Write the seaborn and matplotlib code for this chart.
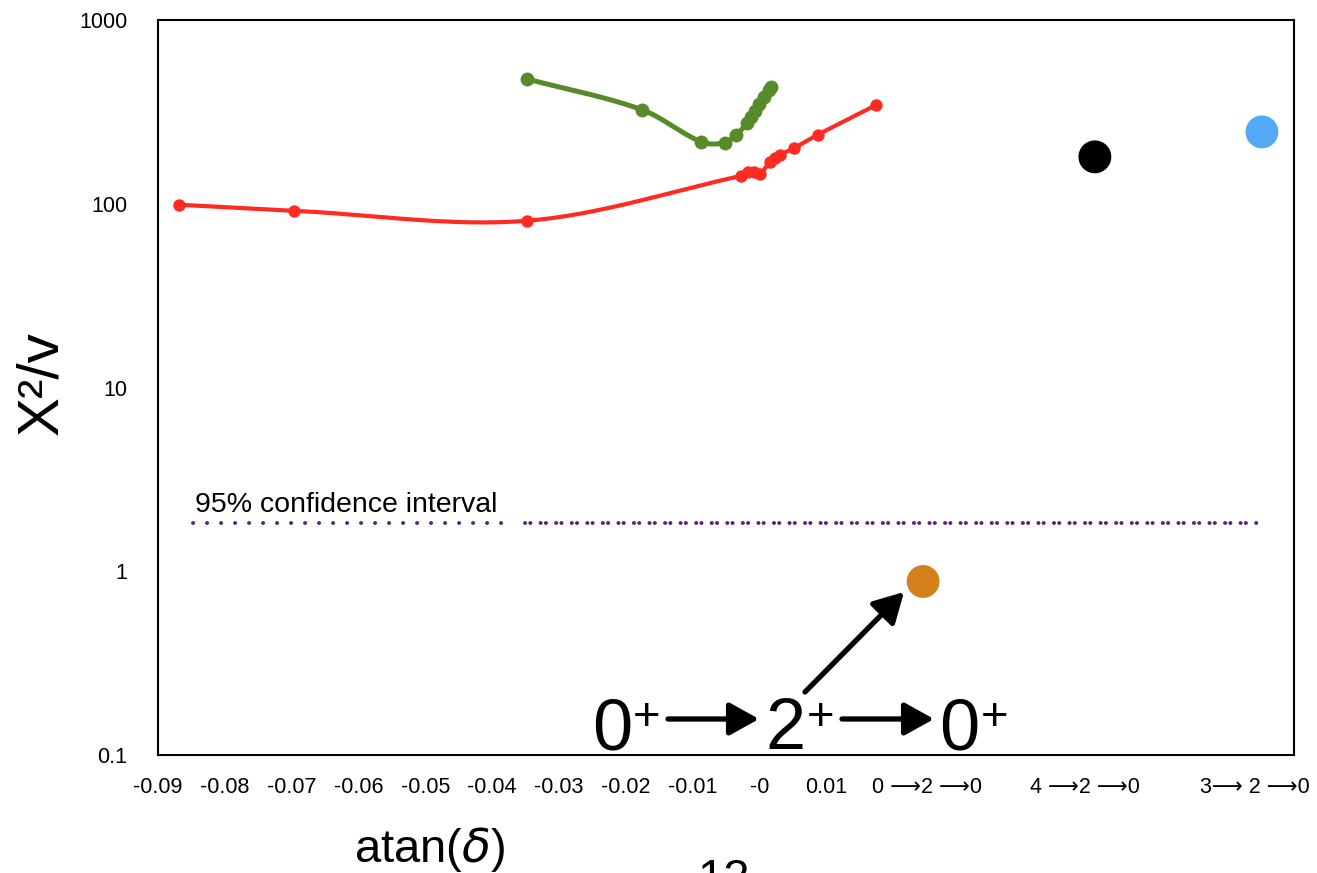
import numpy as np
import pandas as pd
import matplotlib
matplotlib.use("Agg")
import matplotlib.pyplot as plt
import seaborn as sns
from matplotlib.patches import FancyArrowPatch

# ---------------- data ----------------
red_x = [-0.0869, -0.0697, -0.0348, -0.0027, -0.0017, -0.0008, 0.0001,
         0.0016, 0.0024, 0.0031, 0.0052, 0.0087, 0.0175]
red_y = [98.8, 91.6, 80.8, 142, 149, 149, 146, 169, 178, 185, 201, 237, 345]

green_x = [-0.0348, -0.0175, -0.0087, -0.0052, -0.0035, -0.0018, -0.0012,
           -0.0006, 0.0000, 0.0007, 0.0015, 0.0018]
green_y = [478, 324, 217, 215, 237, 275, 297, 320, 349, 382, 417, 433]

single_x = [0.0245, 0.0502, 0.0752]
single_y = [0.88, 180, 246]
single_names = ["0-2-0", "4-2-0", "3-2-0"]
single_colors = ["#D4801C", "#000000", "#54A9F6"]

conf_level = 1.84
conf_sparse_x = [-0.0848, -0.0372]
conf_dense_x = [-0.0351, 0.0747]

xtick_vals = [-0.09, -0.08, -0.07, -0.06, -0.05, -0.04, -0.03, -0.02, -0.01,
              0.0, 0.01, 0.02, 0.03, 0.04, 0.05, 0.06, 0.07, 0.08]
xtick_labels = ["-0.09", "-0.08", "-0.07", "-0.06", "-0.05", "-0.04", "-0.03",
                "-0.02", "-0.01", "-0", "0.01", "", "", "", "", "", "", ""]
cat_x = [0.0251, 0.0487, 0.0742]
cat_labels = ["0 \u27f62 \u27f60", "4 \u27f62 \u27f60", "3\u27f6 2 \u27f60"]
ytick_vals = [0.1, 1, 10, 100, 1000]
ytick_labels = ["0.1", "1", "10", "100", "1000"]

RED = "#FF2B20"
GREEN = "#578B2A"
PURPLE = "#5B2180"

# ---------------- style ----------------
sns.set_theme(style="white")
plt.rcParams["font.family"] = ["Liberation Sans", "DejaVu Sans"]
plt.rcParams["axes.unicode_minus"] = False
plt.rcParams["text.color"] = "black"
plt.rcParams["axes.labelcolor"] = "black"
plt.rcParams["xtick.color"] = "black"
plt.rcParams["ytick.color"] = "black"

W, H = 1317, 873
fig = plt.figure(figsize=(W / 100, H / 100), dpi=100)
L, R, T, B = 158, 1294, 20, 755
ax = fig.add_axes([L / W, 1 - B / H, (R - L) / W, (B - T) / H])


def fx(px):
    return px / W


def fy(py):
    return 1 - py / H


def smooth(xs, ys, n=40):
    x = np.asarray(xs, float)
    ly = np.log10(np.asarray(ys, float))
    m = np.empty_like(ly)
    m[1:-1] = (ly[2:] - ly[:-2]) / (x[2:] - x[:-2])
    m[0] = (ly[1] - ly[0]) / (x[1] - x[0])
    m[-1] = (ly[-1] - ly[-2]) / (x[-1] - x[-2])
    ox, oy = [], []
    t = np.linspace(0, 1, n, endpoint=False)
    h00 = 2 * t**3 - 3 * t**2 + 1
    h10 = t**3 - 2 * t**2 + t
    h01 = -2 * t**3 + 3 * t**2
    h11 = t**3 - t**2
    for i in range(len(x) - 1):
        h = x[i + 1] - x[i]
        ox.append(x[i] + t * h)
        oy.append(h00 * ly[i] + h10 * h * m[i] + h01 * ly[i + 1] + h11 * h * m[i + 1])
    ox.append([x[-1]])
    oy.append([ly[-1]])
    return np.concatenate(ox), 10 ** np.concatenate(oy)


# curves
rx, ry = smooth(red_x, red_y)
gx, gy = smooth(green_x, green_y)
sns.lineplot(x=rx, y=ry, sort=False, estimator=None, color=RED, lw=3.0, ax=ax)
sns.lineplot(x=gx, y=gy, sort=False, estimator=None, color=GREEN, lw=3.6, ax=ax)
sns.scatterplot(x=red_x, y=red_y, color=RED, s=80, linewidth=0, ax=ax, zorder=3)
sns.scatterplot(x=green_x, y=green_y, color=GREEN, s=100, linewidth=0, ax=ax, zorder=3)

# single points
df = pd.DataFrame({"x": single_x, "y": single_y, "name": single_names})
sns.scatterplot(data=df, x="x", y="y", hue="name", palette=single_colors,
                s=560, linewidth=0, legend=False, ax=ax, zorder=4)

# confidence interval line (dotted)
l1, = ax.plot(conf_sparse_x, [conf_level] * 2, color=PURPLE, lw=2.8)
l1.set_dashes([0.05, 3.55])
l1.set_dash_capstyle("round")
l2, = ax.plot(conf_dense_x, [conf_level] * 2, color=PURPLE, lw=2.8)
l2.set_dashes([0.05, 1.3, 0.05, 2.6])
l2.set_dash_capstyle("round")

# axes
ax.set_yscale("log")
ax.set_xlim(-0.09, 0.08)
ax.set_ylim(0.1, 1000)
ax.set_xticks(xtick_vals, labels=xtick_labels)
ax.set_xticks(cat_x, labels=cat_labels, minor=True)
ax.set_yticks(ytick_vals, labels=ytick_labels)
ax.yaxis.set_minor_locator(matplotlib.ticker.NullLocator())
ax.tick_params(axis="both", which="major", direction="in", length=5, width=1.5,
               labelsize=15.5, color="black", labelcolor="black")
ax.tick_params(axis="x", which="major", pad=16)
ax.tick_params(axis="y", which="major", pad=22)
ax.tick_params(axis="x", which="minor", length=0, pad=16, labelsize=15.5,
               labelcolor="black")
for sp in ax.spines.values():
    sp.set_color("black")
    sp.set_linewidth(1.5)
ax.set_xlabel("")
ax.set_ylabel("")

# labels
fig.text(fx(42), fy(383), "X\u00b2/v", rotation=90, fontsize=42,
         ha="center", va="center")
fig.text(fx(430), fy(862), "atan($\\delta$)", fontsize=34, ha="center", va="baseline")
fig.text(fx(724), fy(858), "12", fontsize=34, ha="center", va="top")
fig.text(fx(195), fy(512), "95% confidence interval", fontsize=20.5,
         ha="left", va="baseline")

# 0+ -> 2+ -> 0+ annotation
for cx, s in [(612, "0"), (785, "2"), (959, "0")]:
    fig.text(fx(cx), fy(749), s, fontsize=52, ha="center", va="baseline")
for cx in [647, 821, 995]:
    fig.text(fx(cx), fy(718), "+", fontsize=34, ha="center", va="center")

for (x0, y0, x1, y1) in [(668, 719, 759, 719), (842, 719, 934, 719),
                         (805, 692, 904, 592)]:
    arr = FancyArrowPatch((fx(x0), fy(y0)), (fx(x1), fy(y1)),
                          transform=fig.transFigure,
                          arrowstyle="-|>,head_length=0.9,head_width=0.5",
                          mutation_scale=20, lw=3.8, color="black",
                          shrinkA=0, shrinkB=0)
    fig.add_artist(arr)

fig.savefig("out.png", dpi=100)
